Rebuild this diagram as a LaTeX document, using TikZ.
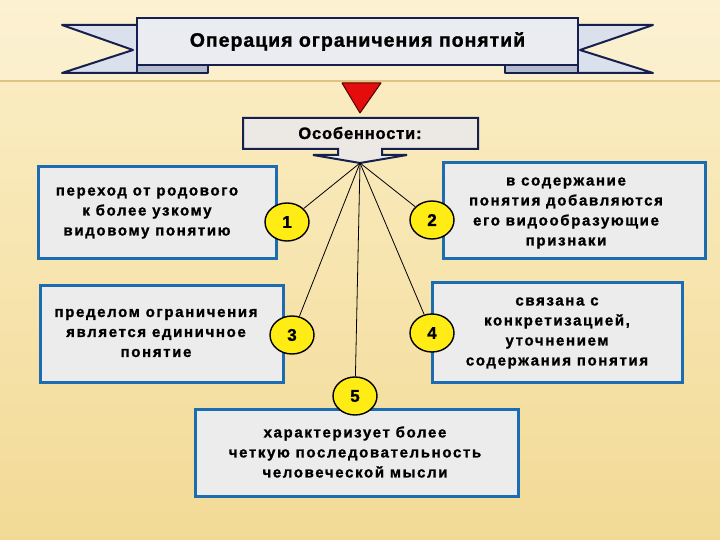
\documentclass[tikz,border=0pt]{standalone}
\usepackage{fontspec}
\setmainfont{Liberation Sans}
\usetikzlibrary{shapes.geometric}
\definecolor{bgtop}{RGB}{252,239,200}
\definecolor{bgbot}{RGB}{242,218,150}
\definecolor{bandline}{RGB}{222,196,128}
\definecolor{navy}{RGB}{22,32,78}
\definecolor{boxblue}{RGB}{28,108,178}
\definecolor{boxfill}{RGB}{236,236,236}
\definecolor{banfill}{RGB}{234,236,242}
\definecolor{tailfill}{RGB}{218,224,236}
\definecolor{calfill}{RGB}{236,232,228}
\definecolor{numyellow}{RGB}{255,236,20}
\definecolor{redtri}{RGB}{228,12,12}
\begin{document}
\begin{tikzpicture}[x=1pt,y=-1pt,
  box/.style={draw=boxblue, line width=3pt, fill=boxfill, rectangle, inner sep=0pt},
  txt/.style={font=\fontsize{15}{20}\selectfont\bfseries\addfontfeatures{LetterSpace=11,FakeBold=1.2}, align=center, inner sep=0pt},
  num/.style={ellipse, draw=black, line width=1.4pt, fill=numyellow, minimum width=44pt, minimum height=38pt, inner sep=0pt, font=\fontsize{17}{17}\selectfont\bfseries\addfontfeatures{FakeBold=1.2}},
  conn/.style={draw=black, line width=0.8pt},
  banline/.style={draw=navy, line width=2pt, line join=round}
]
\useasboundingbox (0,0) rectangle (720,540);
\shade[top color=bgtop, bottom color=bgbot] (0,0) rectangle (720,540);
\fill[bgtop!60!white, opacity=0.4] (0,0) rectangle (720,81);
\draw[bandline, line width=1.5pt] (0,81) -- (720,81);

% banner tails and folds
\filldraw[banline, fill=tailfill] (62,25) -- (142,25) -- (142,73) -- (62,73) -- (133,50) -- cycle;
\filldraw[banline, fill=tailfill] (653,25) -- (573,25) -- (573,73) -- (653,73) -- (580,50) -- cycle;
\filldraw[banline, fill=tailfill!80!navy] (137,60) rectangle (208,73);
\filldraw[banline, fill=tailfill!80!navy] (505,60) rectangle (578,73);
\node[draw=navy, line width=2pt, fill=banfill, minimum width=441pt, minimum height=47pt, inner sep=0pt,
  font=\fontsize{19.5}{22}\selectfont\bfseries\addfontfeatures{LetterSpace=5,FakeBold=1.2}] (title) at (357.5,41.5) {Операция ограничения понятий};

% red triangle
\filldraw[draw=red!30!black, line width=1pt, fill=redtri, line join=round] (342,83) -- (381,83) -- (360,113) -- cycle;

% callout "Особенности:"
\filldraw[draw=navy, line width=2pt, fill=calfill, line join=miter]
  (243,118) -- (478,118) -- (478,149) -- (382,149) -- (382,155) -- (407,155) -- (360,163)
  -- (313,155) -- (338,155) -- (338,149) -- (243,149) -- cycle;
\node[font=\fontsize{16.5}{18}\selectfont\bfseries\addfontfeatures{LetterSpace=5,FakeBold=1.2}, inner sep=0pt] (feat) at (360,133) {Особенности:};
\coordinate (hub) at (360,163);

% boxes
\node[box, minimum width=238pt, minimum height=91pt] (bA) at (157,212.5) {};
\node[box, minimum width=243pt, minimum height=97pt] (bB) at (161.5,333.5) {};
\node[box, minimum width=262pt, minimum height=95pt] (bC) at (574,210.5) {};
\node[box, minimum width=250pt, minimum height=100pt] (bD) at (557,332) {};
\node[box, minimum width=323pt, minimum height=87pt] (bE) at (356.5,452.5) {};

\node[txt] (tA) at (147,213) {переход от родового\\к  более узкому\\видовому понятию};
\node[txt] (tB) at (156,333) {пределом ограничения\\является единичное\\понятие};
\node[txt] (tC) at (566,213) {в содержание\\понятия добавляются\\его видообразующие\\признаки};
\node[txt] (tD) at (557,333) {связана с\\конкретизацией,\\уточнением\\содержания понятия};
\node[txt] (tE) at (355,452) {характеризует более\\четкую последовательность\\человеческой мысли};

% numbered circles
\node[num] (c1) at (287,222) {1};
\node[num] (c2) at (432,220) {2};
\node[num] (c3) at (292,335) {3};
\node[num] (c4) at (432,333) {4};
\node[num] (c5) at (355,396) {5};

\draw[conn] (hub) -- (c1);
\draw[conn] (hub) -- (c2);
\draw[conn] (hub) -- (c3);
\draw[conn] (hub) -- (c4);
\draw[conn] (hub) -- (c5);
\end{tikzpicture}
\end{document}
